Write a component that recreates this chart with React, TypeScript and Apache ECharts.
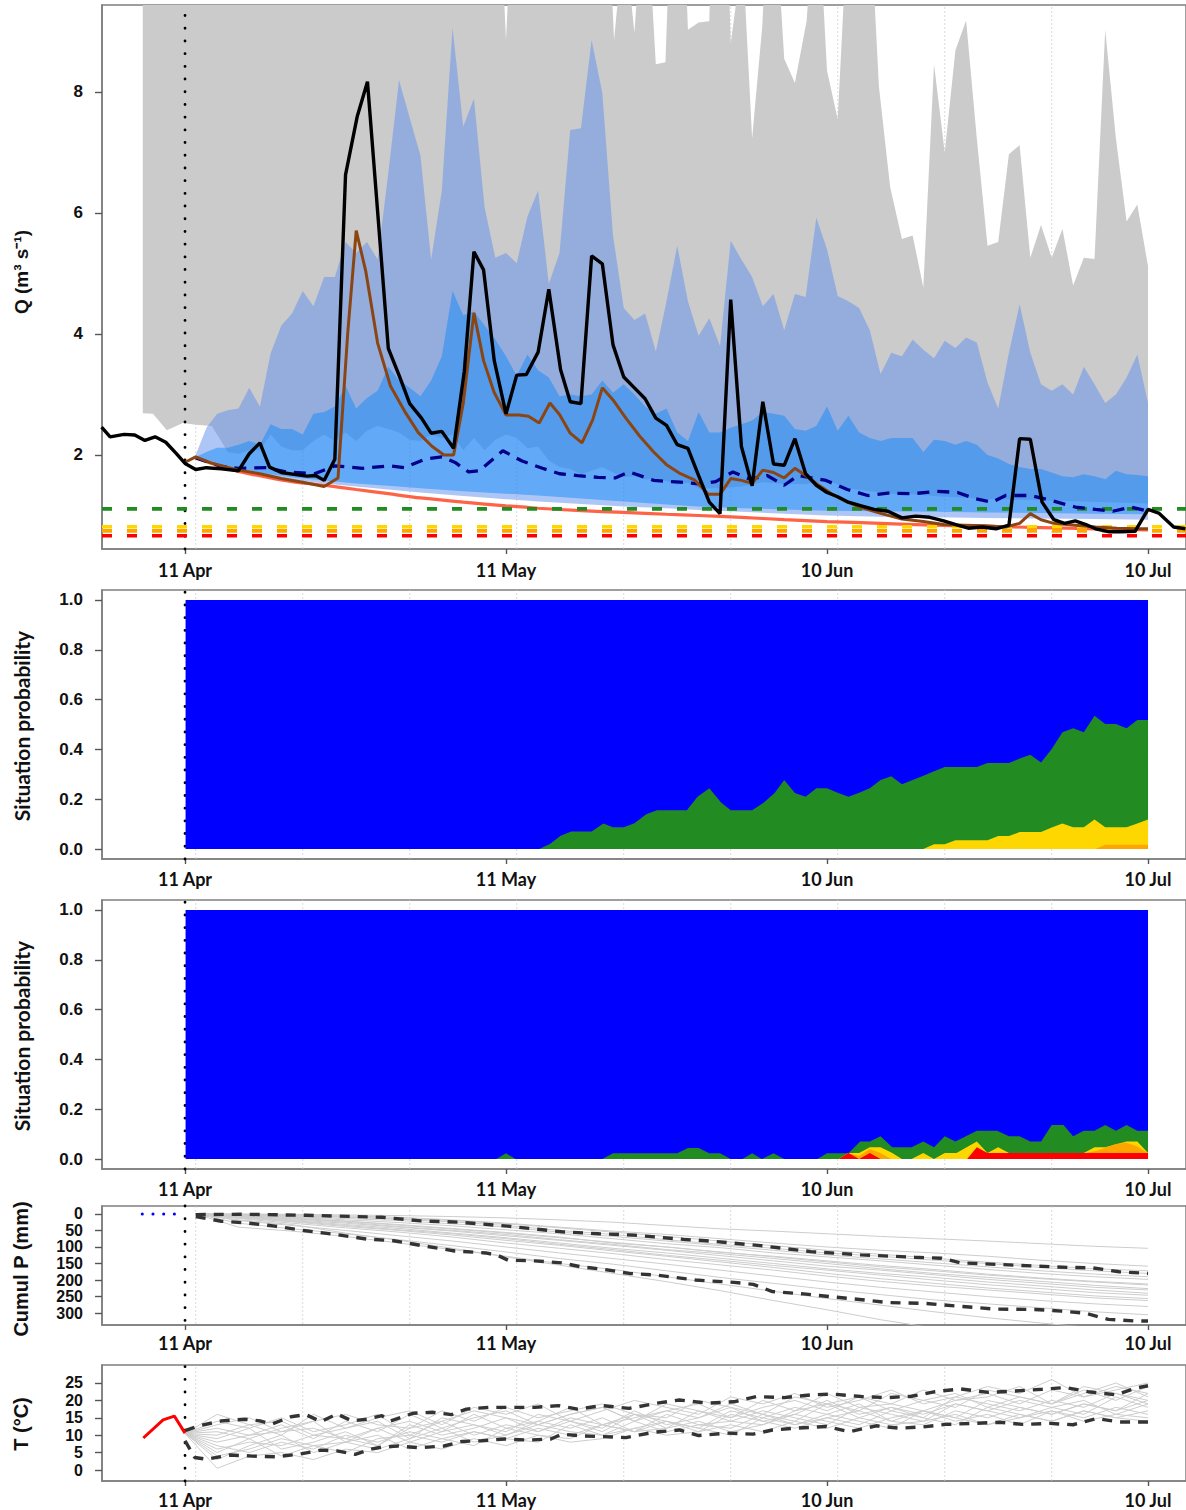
import { useEffect, useRef } from 'react';
import * as echarts from 'echarts';

type Pt = [number, number];

// ---------- shared x axis (days after 11 Apr) ----------
const X_MIN = -7.76;
const X_MAX = 93.55;
const dateTickDays = [0, 30, 60, 90];
const dateTickLabels = ['11 Apr', '11 May', '10 Jun', '10 Jul'];
const gridLineDays = [1, 11, 21, 31, 41, 51, 61, 71, 81];
const forecastDay = [0];

// ---------- tick values ----------
const qTicks = [2, 4, 6, 8];
const probTicks = [0, 0.2, 0.4, 0.6, 0.8, 1.0];
const precipTicks = [0, 50, 100, 150, 200, 250, 300];
const tempTicks = [0, 5, 10, 15, 20, 25];

// ---------- discharge thresholds ----------
const thresholdValues = [1.11, 0.815, 0.745, 0.665];
const thresholdColors = ['#228B22', '#FFD700', '#FFA500', '#FF0000'];

// ---------- Q panel ----------
const qObserved: Pt[] = [[-7.8,2.46],[-7,2.3],[-5.7,2.34],[-4.7,2.33],[-3.75,2.24],[-2.8,2.3],[-1.8,2.21],[-0.85,2.03],[0,1.86],[1,1.76],[2,1.79],[3.4,1.77],[5,1.74],[6,2.02],[7,2.2],[7.9,1.8],[9,1.71],[10.2,1.68],[11.4,1.65],[12.2,1.66],[13,1.58],[14,1.93],[15,6.63],[16.1,7.6],[17.05,8.17],[19,3.76],[20,3.32],[21,2.85],[22.1,2.61],[23,2.36],[24,2.39],[25.1,2.11],[26.1,3.38],[27,5.36],[27.9,5.06],[28.9,3.56],[30,2.68],[31,3.32],[31.9,3.33],[33,3.7],[34,4.74],[35.1,3.41],[36,2.88],[37,2.85],[38,5.29],[39,5.16],[40,3.82],[41,3.29],[42,3.11],[43,2.93],[44,2.61],[45,2.49],[46,2.17],[47,2.11],[48,1.66],[49,1.22],[50,1.03],[51,4.57],[52,2.14],[53,1.49],[54,2.88],[55,1.85],[56,1.83],[57,2.27],[58,1.69],[59,1.5],[60,1.38],[61,1.31],[62,1.22],[63.2,1.16],[64.4,1.1],[65.7,1.07],[67,0.96],[68.3,0.99],[69.6,0.97],[70.9,0.91],[72.2,0.84],[73.2,0.79],[74.5,0.81],[75.8,0.78],[77,0.84],[78,2.27],[79,2.26],[80.1,1.22],[81.2,0.93],[82.2,0.87],[83.2,0.91],[84.2,0.85],[85.1,0.78],[86.4,0.73],[87.4,0.73],[88.8,0.74],[90,1.1],[91,1.04],[92.4,0.81],[93.5,0.78]];

const qSimulated: Pt[] = [[0,1.88],[1,1.97],[2.4,1.87],[5,1.75],[7,1.69],[9,1.61],[11,1.55],[13,1.48],[14.3,1.62],[15.2,4.0],[16,5.71],[16.9,5.03],[18,3.85],[19.2,3.14],[20.5,2.73],[21.8,2.37],[23.1,2.14],[24.2,2.0],[25.1,2.0],[26,2.85],[27,4.35],[27.9,3.56],[28.9,3.03],[30,2.66],[31.2,2.66],[32.1,2.64],[33.1,2.53],[34.1,2.86],[35,2.67],[36,2.36],[37.1,2.2],[38.1,2.58],[39,3.11],[40,2.91],[41.2,2.61],[42.5,2.31],[43.8,2.05],[45,1.84],[46.3,1.69],[47.6,1.59],[48.9,1.35],[50,1.35],[51,1.61],[52,1.58],[53,1.53],[54,1.75],[55,1.71],[56,1.62],[57,1.78],[58,1.66],[59.3,1.49],[60.6,1.34],[61.9,1.22],[63.2,1.13],[65.1,1.03],[67,0.94],[69,0.9],[70.9,0.85],[72.8,0.84],[74.8,0.83],[76.7,0.81],[78,0.87],[79,1.03],[80,0.93],[81.2,0.87],[83.2,0.84],[85.1,0.81],[87.1,0.79],[89,0.78],[90,0.78]];

const qMedian: Pt[] = [[1,1.95],[3.4,1.81],[5,1.78],[7.6,1.79],[9.5,1.72],[12.1,1.69],[14,1.82],[16.6,1.78],[19.2,1.82],[20.5,1.79],[22.4,1.93],[24,1.97],[25.3,1.87],[26.5,1.72],[27.5,1.74],[29.7,2.07],[31.5,1.9],[33.4,1.78],[35,1.69],[36.7,1.66],[38.6,1.63],[40.2,1.62],[41.5,1.72],[43.8,1.58],[46.3,1.55],[48.3,1.52],[49.6,1.56],[51.2,1.72],[52.8,1.6],[54.4,1.66],[56,1.5],[57.3,1.66],[59.9,1.58],[61.9,1.43],[63.8,1.33],[65.7,1.37],[68,1.36],[70.3,1.4],[72.2,1.38],[73.8,1.28],[75.4,1.22],[76.7,1.33],[79,1.33],[80.9,1.25],[83.2,1.14],[85.1,1.1],[86.7,1.07],[88.4,1.14],[90,1.07]];

const qRecession: Pt[] = [[1,1.96],[3,1.83],[5,1.73],[8,1.62],[10,1.56],[13,1.5],[16,1.43],[19,1.36],[22,1.29],[26,1.22],[30,1.16],[33,1.12],[37,1.08],[41,1.05],[45,1.02],[48,1.0],[52,0.97],[56,0.93],[60,0.9],[65,0.87],[70,0.84],[75,0.82],[80,0.8],[85,0.78],[90,0.76]];

const climTop: Pt[] = [[-3.95,10],[29.7,10],[30,8.86],[30.3,10],[39.8,10],[40.1,8.86],[40.7,10],[41.4,10],[42,8.98],[42.4,10],[43.5,10],[44,8.46],[44.9,8.49],[45.2,10],[46.8,10],[47,9.03],[48,9.15],[49,9.17],[49.1,10],[50.8,10],[51,8.8],[51.9,10],[52.2,10],[53,7.23],[53.95,9.09],[54.2,10],[55.5,10],[56,8.55],[57,8.15],[58.1,9.18],[58.4,10],[59.5,10],[60,8.35],[61,7.55],[61.7,10],[64.3,10],[64.85,8.09],[65.9,6.43],[67,5.57],[68,5.63],[69,4.77],[70,8.46],[71,7.0],[72,8.69],[73,9.18],[74,7.23],[75,5.46],[76,5.52],[77,6.97],[78,7.12],[79,5.26],[80,5.8],[81,5.26],[82,5.74],[83,4.8],[84,5.26],[85,5.24],[86,9.03],[87,7.23],[88,5.86],[89,6.14],[90,5.12]];

const climBottom: Pt[] = [[-3.95,2.69],[-3,2.68],[-1.7,2.41],[-0.2,2.53],[1,2.5],[2.5,2.48],[3.3,2.25],[4,2.05],[5,2.02],[6,2.08],[7,2.08],[8,2.34],[9,2.14],[10,2.08],[11,2.08],[12,2.23],[13,2.34],[14,2.23],[15,2.37],[16,2.23],[17,2.4],[18,2.48],[19,2.43],[20,2.37],[21,2.25],[22,2.23],[23,2.34],[24,2.28],[25,2.34],[26,2.08],[27,2.28],[28,2.08],[29,2.25],[30,2.34],[31,2.28],[32,2.11],[33,2.14],[34,1.91],[35,1.8],[36,1.77],[37,1.68],[38,1.74],[39,1.8],[40,1.71],[41,1.63],[42,1.65],[43,1.6],[44,1.6],[45,1.57],[46,1.51],[47,1.54],[48,1.45],[50,1.45],[52,1.48],[54,1.55],[56,1.52],[58,1.52],[60,1.58],[62,1.45],[64,1.4],[66,1.36],[68,1.35],[70,1.32],[72,1.3],[74,1.28],[76,1.27],[78,1.26],[80,1.25],[82,1.24],[84,1.23],[86,1.22],[88,1.21],[90,1.2]];

const outerTop: Pt[] = [[0.9,1.96],[2,2.45],[3,2.68],[4,2.74],[5,2.77],[6,3.11],[7,2.8],[8,3.68],[9,4.14],[10,4.34],[11,4.71],[12,4.46],[13,4.94],[14,4.94],[15,5.52],[16,5.34],[17,5.52],[18,5.23],[19,6.66],[20,8.2],[21,7.57],[22,6.95],[23,5.23],[24,6.37],[25,9.06],[26,7.43],[27,7.89],[28,6.09],[29,5.26],[30,5.34],[31,5.17],[32,5.94],[33,6.37],[34,4.83],[35,5.34],[36,7.37],[37,7.4],[38,8.86],[39,7.98],[40,5.63],[41,4.43],[42,4.23],[43,4.34],[44,3.71],[45,4.54],[46,5.46],[47,4.54],[48,3.97],[49,4.26],[50,3.8],[51,5.54],[52,5.23],[53,4.94],[54,4.46],[55,4.66],[56,4.06],[57,4.66],[58,4.61],[59,5.92],[60,5.4],[61,4.63],[62,4.54],[63,4.43],[64,4.06],[65,3.34],[66,3.69],[67,3.63],[68,3.91],[69,3.74],[70,3.6],[71,3.89],[72,3.77],[73,3.94],[74,3.86],[75,3.2],[76,2.77],[77,3.69],[78,4.49],[79,3.69],[80,3.17],[81,3.06],[82,3.17],[83,3.0],[84,3.46],[85,3.17],[86,2.86],[87,3.0],[88,3.28],[89,3.66],[90,2.86]];

const outerBottom: Pt[] = [[0.9,1.96],[3,1.84],[5,1.75],[8,1.64],[10,1.59],[13,1.53],[16,1.48],[19,1.43],[22,1.38],[26,1.32],[30,1.27],[33,1.23],[37,1.19],[41,1.15],[45,1.12],[48,1.09],[52,1.06],[56,1.03],[60,1.0],[65,0.98],[70,0.97],[75,0.96],[80,0.95],[85,0.94],[90,0.93]];

const innerTop: Pt[] = [[0.9,1.96],[2,2.05],[3,2.12],[4,2.12],[5,2.17],[6,2.23],[7,2.17],[8,2.51],[9,2.43],[10,2.43],[11,2.34],[12,2.68],[13,2.71],[14,2.8],[15,3.14],[16,2.77],[17,2.94],[18,3.06],[19,3.46],[20,3.23],[21,3.11],[22,2.97],[23,3.23],[24,3.63],[25,4.71],[26,4.31],[27,4.37],[28,4.14],[29,3.91],[30,3.63],[31,3.31],[32,3.66],[33,3.4],[34,3.28],[35,2.97],[36,3.0],[37,2.97],[38,3.0],[39,3.23],[40,3.03],[41,3.17],[42,3.0],[43,2.8],[44,2.68],[45,2.77],[46,2.37],[47,2.23],[48,2.71],[49,2.37],[50,2.37],[51,2.45],[52,2.51],[53,2.57],[54,2.71],[55,2.68],[56,2.65],[57,2.43],[58,2.4],[59,2.48],[60,2.8],[61,2.4],[62,2.65],[63,2.37],[64,2.28],[65,2.23],[66,2.28],[67,2.28],[68,2.28],[69,2.05],[70,2.25],[71,2.23],[72,2.17],[73,2.23],[74,2.17],[75,2.0],[76,1.94],[77,1.85],[78,1.8],[79,1.77],[80,1.77],[81,1.71],[82,1.65],[83,1.63],[84,1.68],[85,1.65],[86,1.6],[87,1.74],[88,1.68],[89,1.67],[90,1.65]];

const innerBottom: Pt[] = [[0.9,1.96],[3,1.86],[5,1.77],[8,1.68],[10,1.63],[13,1.58],[16,1.53],[19,1.49],[22,1.45],[26,1.4],[30,1.36],[33,1.33],[37,1.28],[41,1.23],[45,1.18],[48,1.15],[52,1.12],[56,1.1],[60,1.08],[65,1.07],[70,1.06],[75,1.05],[80,1.04],[85,1.03],[90,1.02]];

// ---------- situation probability panels (cumulative class tops) ----------
const probAll: Pt[] = [[0.05,1],[90,1]];
const sit1Green: Pt[] = [[0.05,0],[33.1,0],[34.1,0.02],[35.1,0.053],[36.1,0.07],[38,0.07],[39.1,0.103],[40,0.087],[41,0.087],[42,0.104],[43.1,0.14],[44.1,0.156],[46.9,0.156],[47.9,0.21],[49,0.244],[50.1,0.187],[51,0.156],[53,0.156],[54.1,0.187],[55.1,0.225],[56,0.277],[57,0.225],[58,0.21],[59,0.244],[60,0.244],[61,0.226],[62,0.21],[63,0.226],[64,0.244],[65,0.277],[66,0.292],[67,0.26],[68,0.277],[69,0.294],[70,0.312],[71,0.329],[72,0.329],[74,0.329],[75,0.345],[77,0.345],[78,0.363],[79,0.379],[80,0.347],[81,0.402],[82,0.469],[83,0.485],[84,0.469],[85,0.535],[86,0.502],[87,0.502],[88,0.485],[89,0.518],[90,0.518]];
const sit1Yellow: Pt[] = [[69,0],[70,0.019],[71,0.019],[72,0.035],[75,0.035],[76,0.052],[77,0.052],[78,0.068],[80,0.068],[81,0.086],[82,0.103],[83,0.087],[84,0.087],[85,0.119],[86,0.087],[88,0.087],[89,0.103],[90,0.119]];
const sit1Orange: Pt[] = [[85.1,0],[86,0.017],[90,0.017]];

const sit2Green: Pt[] = [[0.05,0],[29.1,0],[30,0.023],[30.9,0],[39,0],[40,0.023],[46,0.023],[47,0.044],[48,0.044],[49,0.023],[50,0.023],[51,0],[52.1,0],[53,0.023],[53.9,0],[55,0.023],[56,0],[59.1,0],[60,0.023],[62,0.023],[63.1,0.07],[64,0.07],[65,0.091],[66.1,0.047],[67.9,0.047],[69,0.07],[70,0.047],[71,0.091],[72,0.07],[74,0.114],[75.9,0.114],[77,0.091],[78,0.091],[79,0.07],[80,0.07],[81,0.137],[82.1,0.137],[83,0.091],[84,0.114],[85,0.114],[86,0.137],[87,0.114],[88,0.137],[89,0.114],[90,0.114]];
const sit2Yellow: Pt[] = [[61.1,0],[62,0.024],[63,0.024],[64,0.047],[65,0.047],[66.1,0.024],[67,0],[67.9,0],[69,0.024],[70,0],[71,0.024],[72.1,0.024],[74,0.07],[75,0.024],[76,0.047],[77,0.024],[84,0.024],[85,0.047],[86,0.047],[88,0.07],[89,0.07],[90,0.024]];
const sit2Orange: Pt[] = [[61.1,0],[62,0.024],[63,0.012],[64,0.04],[65,0.024],[66,0],[73.5,0],[74,0.024],[84,0.024],[85,0.03],[86,0.045],[87,0.06],[88,0.065],[89,0.05],[90,0.024]];
const sit2Red: Pt[] = [[61.1,0],[62,0.024],[63,0],[64,0.024],[65,0],[73.1,0],[74,0.047],[75,0.024],[90,0.024]];

// ---------- cumulative precipitation ----------
const pObserved: Pt[] = [[-4,0],[0,0]];
const pQuantileLow: Pt[] = [[1,2],[5.6,1],[11.3,4],[18.4,10],[22,21],[25.6,25],[30.2,37],[35.2,54],[38.7,60],[41.9,64],[46.6,77],[49.1,82],[53.8,96],[58.5,114],[63.2,124],[68.2,131],[70.7,134],[72.5,148],[77.6,155],[82.6,162],[84.8,163],[87.3,175],[90,180]];
const pQuantileHigh: Pt[] = [[1,8],[3.4,22],[6,28],[8.4,37],[11.3,51],[13.8,61],[17,76],[19.5,81],[22,95],[25.2,112],[28.1,118],[29.2,125],[30.2,140],[32.7,142],[35.2,148],[37,160],[39,167],[41.5,180],[44.1,185],[47.7,200],[51.3,207],[53.1,213],[54.9,235],[57.8,242],[60.3,250],[62.8,258],[65.7,268],[69.3,271],[72.2,279],[75.8,288],[79.4,289],[81.9,294],[84.1,300],[86.3,319],[88.8,324],[90,324]];
const pMemberDays = [1,5,10,15,20,25,30,35,40,45,50,55,60,65,70,75,80,85,90];
const pMember1 = [0,0,1,3,5,8,12,18,25,35,45,52,60,68,75,82,90,98,104];
const pMember2 = [0,1,3,6,10,18,28,40,52,62,75,88,100,110,118,128,140,150,158];
const pMember3 = [0,2,6,10,16,24,35,50,62,78,92,104,118,128,140,150,162,172,180];
const pMember4 = [0,3,10,18,26,36,48,60,75,90,102,118,130,142,155,168,180,190,198];
const pMember5 = [0,5,12,22,32,44,56,70,88,100,115,130,145,160,172,185,196,206,215];
const pMember6 = [0,8,18,28,40,52,66,80,95,110,126,142,158,170,184,198,210,222,230];
const pMember7 = [0,10,22,35,48,60,75,92,108,125,140,156,170,185,200,214,226,238,246];
const pMember8 = [0,14,28,42,55,70,88,104,120,138,154,170,188,204,218,230,242,254,262];
const pMember9 = [0,20,35,50,66,82,100,118,135,152,170,188,206,222,236,250,262,272,280];
const pMember10 = [0,28,45,60,78,96,115,135,152,172,192,210,228,244,260,272,284,296,305];
const pMember11 = [0,40,52,68,88,108,128,150,168,190,212,234,256,276,296,314,330,345,355];
const pMember12 = [0,18,32,58,80,104,130,155,180,205,232,262,290,320,345,365,380,395,405];
const pMember13 = [0,6,15,25,38,50,62,78,92,108,120,135,150,166,180,192,204,216,226];
const pMember14 = [0,12,24,38,50,64,80,95,112,128,145,162,180,196,210,224,236,248,256];
const pMember15 = [0,4,8,14,20,30,40,55,68,82,96,110,124,136,148,160,172,182,190];
const pMember16 = [0,2,5,9,14,20,30,42,55,68,82,96,110,122,134,146,156,166,172];
const pMember17 = [0,9,20,32,44,58,72,88,104,118,134,150,166,180,192,206,218,230,240];
const pMember18 = [0,7,14,22,34,46,58,72,86,100,116,128,142,156,168,182,194,204,212];
const pMembers = [pMember1,pMember2,pMember3,pMember4,pMember5,pMember6,pMember7,pMember8,pMember9,pMember10,pMember11,pMember12,pMember13,pMember14,pMember15,pMember16,pMember17,pMember18];

// ---------- temperature ----------
const tObserved: Pt[] = [[-3.9,9.2],[-2.05,14.4],[-1.0,15.5],[0,10.6]];
const tQuantileHigh: Pt[] = [[0,11.3],[1.3,12.7],[3.4,14.1],[5.6,14.6],[7,14.1],[8.1,13.2],[9.9,15.3],[11.3,15.9],[12.7,13.9],[14.2,16.1],[15.6,14.1],[17,14.6],[18.4,15.6],[19.2,14.1],[21.3,16.3],[23.1,16.6],[24.9,15.9],[26.3,17.5],[28.4,18.0],[32.7,18.0],[34.9,18.5],[36.7,17.5],[39,18.5],[41.5,17.7],[44.1,19.2],[46.2,20.1],[48.8,19.2],[51.3,19.6],[53.4,21.1],[56,20.8],[58.5,21.6],[60.6,21.8],[63.2,21.1],[65.7,20.8],[67.9,21.2],[70.1,22.5],[72.5,23.3],[75.1,22.3],[77.6,22.7],[80.1,23.2],[82.3,23.7],[84.4,22.5],[87,21.6],[88.8,23.5],[90,24.2]];
const tQuantileLow: Pt[] = [[0,8.4],[0.9,3.6],[2,3.1],[4.2,4.3],[6.3,4.0],[8.4,3.8],[10.6,4.5],[12.7,5.7],[14.2,5.5],[15.9,4.5],[17.4,6.0],[18.4,6.6],[19.9,6.9],[22,6.4],[24.2,6.9],[25.9,8.2],[27.7,8.4],[29.9,8.9],[32,8.6],[34.2,8.9],[35.2,10.3],[37,9.8],[39,9.6],[41.2,9.3],[43.7,10.8],[46.2,11.5],[48,9.9],[50.6,10.6],[53.1,10.3],[54.9,11.5],[57,12.0],[59.9,12.5],[62.1,11.0],[64.6,12.7],[66.8,12.0],[69,12.4],[71.1,13.1],[73.6,13.4],[76.2,13.7],[78.3,13.1],[80.8,13.4],[83,13.0],[85.2,14.8],[87.3,13.8],[90,13.8]];
const tMemberDays = [0,3,6,9,12,15,18,21,24,27,30,33,36,39,42,45,48,51,54,57,60,63,66,69,72,75,78,81,84,87,90];
const tMember1 = [10.5,12,10,13,9,14,11,16,12,15,17,13,16,18,14,17,19,15,20,17,22,18,19,23,20,21,24,19,22,25,21];
const tMember2 = [10.5,6,8,7,10,9,12,8,11,13,10,14,12,15,11,16,13,14,17,15,13,18,16,14,19,17,15,18,20,16,19];
const tMember3 = [10.5,9,12,6,8,11,7,12,14,10,13,11,15,13,16,14,12,17,15,18,16,19,14,17,15,20,18,16,19,17,22];
const tMember4 = [10.5,4,6,9,7,5,9,10,8,11,9,12,10,13,11,12,14,11,13,16,14,12,15,17,14,16,13,17,15,18,16];
const tMember5 = [10.5,13,15,11,14,16,13,12,17,14,18,15,17,19,16,15,20,18,16,21,19,17,22,20,18,23,21,19,24,22,20];
const tMember6 = [10.5,7,5,8,6,10,8,11,9,7,12,10,9,13,11,14,12,10,15,13,16,14,12,17,15,13,16,14,17,15,14];
const tMember7 = [10.5,11,9,12,14,8,12,14,11,16,12,14,18,13,15,17,15,19,16,14,19,21,17,20,22,18,21,19,23,20,24];
const tMember8 = [10.5,0.5,4,5,3,6,5,8,6,9,7,10,8,9,12,10,11,13,11,14,12,15,13,14,16,13,15,17,14,16,15];
const tMember9 = [10.5,14,12,15,11,13,16,10,14,17,15,13,16,18,14,19,17,15,18,20,17,21,19,17,20,22,19,23,21,24,22];
const tMember10 = [10.5,8,10,11,12,9,7,13,10,12,15,11,14,11,16,12,17,14,13,17,19,15,18,16,19,17,20,18,16,21,18];
const tMember11 = [10.5,5,9,4,7,8,10,6,9,11,9,8,13,10,12,14,11,16,14,12,15,13,17,15,13,18,16,14,17,15,17];
const tMember12 = [10.5,16,13,10,16,12,15,17,13,18,16,19,14,17,20,18,16,21,19,22,18,20,23,19,21,24,22,26,21,23,25];
const tMember13 = [10.5,10,13,14,10,12,14,9,15,13,11,16,14,12,17,13,15,18,14,16,20,16,18,15,21,19,17,20,18,22,19];
const tMember14 = [10.5,3,7,10,5,8,6,9,12,8,10,13,11,10,14,11,13,12,16,13,15,17,14,13,17,15,18,16,19,17,20];
const tMembers = [tMember1,tMember2,tMember3,tMember4,tMember5,tMember6,tMember7,tMember8,tMember9,tMember10,tMember11,tMember12,tMember13,tMember14];

// ---------- layout ----------
const W = 1186;
const H = 1510;
const GRID_LEFT = 102;
const GRID_WIDTH = 1086;
const panels = [
  { top: 5, height: 544, min: 0.446, max: 9.438, inverse: false, ticks: qTicks, labelMargin: 12, tickFont: 17 },
  { top: 590, height: 269, min: -0.04, max: 1.04, inverse: false, ticks: probTicks, labelMargin: 11, tickFont: 17 },
  { top: 900, height: 269, min: -0.04, max: 1.04, inverse: false, ticks: probTicks, labelMargin: 11, tickFont: 17 },
  { top: 1206, height: 119, min: -24, max: 336, inverse: true, ticks: precipTicks, labelMargin: 9, tickFont: 16 },
  { top: 1365, height: 116, min: -3.16, max: 30.17, inverse: false, ticks: tempTicks, labelMargin: 10, tickFont: 16 },
];

const AXIS_COLOR = '#7f7f7f';

function band(gi: number, upper: Pt[], lower: Pt[], color: string) {
  return {
    type: 'custom',
    xAxisIndex: gi,
    yAxisIndex: gi,
    silent: true,
    clip: true,
    data: [[upper[0][0], upper[0][1]]],
    renderItem: (_p: any, api: any) => {
      const pts = upper.map((p) => api.coord(p)).concat(lower.slice().reverse().map((p) => api.coord(p)));
      return { type: 'polygon', shape: { points: pts }, style: { fill: color } };
    },
  };
}

function vlines(gi: number, xs: number[], style: any) {
  const p = panels[gi];
  return {
    type: 'custom',
    xAxisIndex: gi,
    yAxisIndex: gi,
    silent: true,
    clip: false,
    data: [[xs[0], p.min]],
    renderItem: (_p: any, api: any) => ({
      type: 'group',
      children: xs.map((x) => {
        const a = api.coord([x, p.min]);
        const b = api.coord([x, p.max]);
        return { type: 'line', shape: { x1: a[0], y1: a[1], x2: b[0], y2: b[1] }, style };
      }),
    }),
  };
}

function line(gi: number, data: any[], color: string, width: number, type: any = 'solid', extra: any = {}) {
  return {
    type: 'line',
    xAxisIndex: gi,
    yAxisIndex: gi,
    data,
    symbol: 'none',
    showSymbol: false,
    silent: true,
    lineStyle: { color, width, type, ...(extra.cap ? { cap: extra.cap } : {}) },
    ...(extra.smooth ? { smooth: extra.smooth } : {}),
  };
}

function area(gi: number, data: Pt[], color: string) {
  return {
    type: 'line',
    xAxisIndex: gi,
    yAxisIndex: gi,
    data,
    symbol: 'none',
    showSymbol: false,
    silent: true,
    lineStyle: { width: 0, color },
    areaStyle: { color, opacity: 1, origin: 0 },
  };
}

const gridLineStyle = { stroke: 'rgba(205,205,205,0.75)', lineWidth: 1, lineDash: [2, 2] };
const forecastLineStyle = { stroke: '#000', lineWidth: 2.8, lineDash: [0.1, 12.6], lineCap: 'round' };

function buildOption() {
  const series: any[] = [];

  // ---- panel 0 : discharge
  series.push(vlines(0, gridLineDays, gridLineStyle));
  series.push(band(0, climTop, climBottom, '#CBCBCB'));
  series.push(band(0, outerTop, outerBottom, 'rgba(102,147,236,0.53)'));
  series.push(band(0, innerTop, innerBottom, 'rgba(7,133,253,0.45)'));
  series.push(line(0, qRecession, '#FF6347', 3.2, 'solid', { smooth: 0.3 }));
  thresholdValues.forEach((v, i) => {
    series.push(line(0, [[X_MIN, v], [X_MAX, v]], thresholdColors[i], 3.6, [10, 15]));
  });
  series.push(line(0, qMedian, '#00008B', 3.3, [12, 8]));
  series.push(line(0, qSimulated, '#8B4513', 3));
  series.push(line(0, qObserved, '#000000', 3.4));
  series.push(vlines(0, forecastDay, forecastLineStyle));

  // ---- panels 1,2 : situation probability
  const sitSets: [Pt[], string][][] = [
    [[probAll, '#0000FF'], [sit1Green, '#228B22'], [sit1Yellow, '#FFD700'], [sit1Orange, '#FFA500']],
    [[probAll, '#0000FF'], [sit2Green, '#228B22'], [sit2Yellow, '#FFD700'], [sit2Orange, '#FFA500'], [sit2Red, '#FF0000']],
  ];
  sitSets.forEach((set, k) => {
    const gi = k + 1;
    set.forEach(([d, c]) => series.push(area(gi, d, c)));
    series.push(vlines(gi, gridLineDays, gridLineStyle));
    series.push(vlines(gi, forecastDay, forecastLineStyle));
  });

  // ---- panel 3 : cumulative precipitation
  series.push(vlines(3, gridLineDays, gridLineStyle));
  pMembers.forEach((m) => series.push(line(3, pMemberDays.map((d, i) => [d, m[i]]), '#cdcdcd', 1)));
  series.push(line(3, pQuantileLow, '#333333', 3.4, [10, 8]));
  series.push(line(3, pQuantileHigh, '#333333', 3.4, [10, 8]));
  series.push(line(3, pObserved, '#0000FF', 3, [0.1, 10.6], { cap: 'round' }));
  series.push(vlines(3, forecastDay, forecastLineStyle));

  // ---- panel 4 : temperature
  series.push(vlines(4, gridLineDays, gridLineStyle));
  tMembers.forEach((m) => series.push(line(4, tMemberDays.map((d, i) => [d, m[i]]), '#cdcdcd', 1)));
  series.push(line(4, tQuantileHigh, '#333333', 3.4, [10, 8]));
  series.push(line(4, tQuantileLow, '#333333', 3.4, [10, 8]));
  series.push(line(4, tObserved, '#FF0000', 3));
  series.push(vlines(4, forecastDay, forecastLineStyle));

  const grid = panels.map((p) => ({
    left: GRID_LEFT,
    top: p.top,
    width: GRID_WIDTH,
    height: p.height,
    show: true,
    borderColor: AXIS_COLOR,
    borderWidth: 1.5,
    backgroundColor: 'transparent',
    containLabel: false,
  }));

  const xAxis = panels.map((p, gi) => ({
    type: 'value',
    gridIndex: gi,
    min: X_MIN,
    max: X_MAX,
    axisLine: { show: true, onZero: false, lineStyle: { color: AXIS_COLOR, width: 1.6 } },
    axisTick: { show: true, customValues: dateTickDays, length: 5, lineStyle: { color: '#555', width: 1.4 } },
    axisLabel: {
      show: true,
      customValues: dateTickDays,
      margin: p.labelMargin,
      showMinLabel: true,
      showMaxLabel: true,
      hideOverlap: false,
      formatter: (v: number) => {
        const i = dateTickDays.indexOf(Math.round(v));
        return i >= 0 ? dateTickLabels[i] : '';
      },
      fontFamily: 'Lato',
      fontWeight: 'bold',
      fontSize: 18,
      color: '#111',
    },
    splitLine: { show: false },
  }));

  const yAxis = panels.map((p, gi) => ({
    type: 'value',
    gridIndex: gi,
    min: p.min,
    max: p.max,
    inverse: p.inverse,
    axisLine: { show: true, onZero: false, lineStyle: { color: AXIS_COLOR, width: 1.6 } },
    axisTick: { show: true, customValues: p.ticks, length: 7, lineStyle: { color: '#555', width: 1.4 } },
    axisLabel: {
      show: true,
      customValues: p.ticks,
      margin: 19,
      showMinLabel: true,
      showMaxLabel: true,
      hideOverlap: false,
      lineHeight: 14,
      formatter: (v: number) => (gi === 1 || gi === 2 ? v.toFixed(1) : String(Math.round(v))),
      fontFamily: '"Liberation Sans", Arial, sans-serif',
      fontWeight: 'bold',
      fontSize: p.tickFont,
      color: '#111',
    },
    splitLine: { show: false },
  }));

  const titleFontArial = 'bold 20px "Liberation Sans", Arial, sans-serif';
  const titleFontCal = 'bold 21px Lato, sans-serif';
  const titles: [string, number, string][] = [
    ['Q (m³ s⁻¹)', 272, 'bold 19px "Liberation Sans", Arial, sans-serif'],
    ['Situation probability', 726, titleFontCal],
    ['Situation probability', 1036, titleFontCal],
    ['Cumul P (mm)', 1269, titleFontArial],
    ['T (°C)', 1424, titleFontArial],
  ];
  const graphic = titles.map(([text, y, font]) => ({
    type: 'text',
    x: 21,
    y,
    rotation: Math.PI / 2,
    silent: true,
    style: { text, font, fill: '#111', align: 'center', verticalAlign: 'middle' },
  }));

  return {
    animation: false,
    backgroundColor: '#ffffff',
    grid,
    xAxis,
    yAxis,
    series,
    graphic,
  };
}

export default function App() {
  const ref = useRef<HTMLDivElement | null>(null);
  useEffect(() => {
    document.body.style.margin = '0';
    if (!ref.current) return;
    const chart = echarts.init(ref.current, undefined, { renderer: 'svg', width: W, height: H });
    chart.setOption(buildOption() as any);
    return () => chart.dispose();
  }, []);
  return <div ref={ref} style={{ width: W, height: H, position: 'absolute', left: 0, top: 0 }} />;
}
